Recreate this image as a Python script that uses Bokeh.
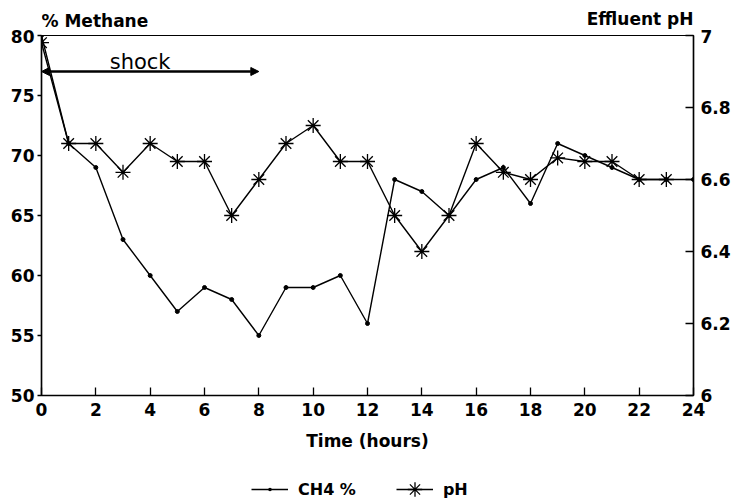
from bokeh.plotting import figure
from bokeh.layouts import column
from bokeh.models import (Range1d, LinearAxis, FixedTicker, Label, Arrow,
                          NormalHead, Legend, LegendItem)
from bokeh.embed import file_html
from bokeh.resources import INLINE

# ---- data ----
hours = list(range(25))
ch4 = [80, 71, 69, 63, 60, 57, 59, 58, 55, 59, 59, 60, 56,
       68, 67, 65, 68, 69, 66, 71, 70, 69, 68, 68, 68]
ph_hours = list(range(24))
ph = [6.98, 6.70, 6.70, 6.62, 6.70, 6.65, 6.65, 6.50, 6.60, 6.70, 6.75, 6.65,
      6.65, 6.50, 6.40, 6.50, 6.70, 6.62, 6.60, 6.66, 6.65, 6.65, 6.60, 6.60]
x_ticks = [0, 2, 4, 6, 8, 10, 12, 14, 16, 18, 20, 22, 24]
ch4_ticks = [50, 55, 60, 65, 70, 75, 80]
ph_ticks = [6, 6.2, 6.4, 6.6, 6.8, 7]
ph_tick_labels = ["6", "6.2", "6.4", "6.6", "6.8", "7"]
shock_start, shock_end, shock_level = 0, 8, 77
shock_text = "shock"
left_title = "% Methane"
right_title = "Effluent pH"
x_title = "Time (hours)"
series_names = ["CH4 %", "pH"]

FONT = "DejaVu Sans"
W = 734
HEAD_H = 29

# ---- header with the two axis titles ----
head = figure(width=W, height=HEAD_H, output_backend="svg", toolbar_location=None,
              x_range=Range1d(0, 24), y_range=Range1d(HEAD_H, 0),
              x_axis_location=None, y_axis_location=None,
              min_border_left=41, min_border_right=41,
              min_border_top=0, min_border_bottom=0)
head.outline_line_color = None
head.grid.visible = False
head.add_layout(Label(x=0, y=20, text=left_title, text_align="left",
                      text_baseline="alphabetic", text_font=FONT,
                      text_font_style="bold", text_font_size="17px",
                      text_color="black"))
head.add_layout(Label(x=24, y=18, text=right_title, text_align="right",
                      text_baseline="alphabetic", text_font=FONT,
                      text_font_style="bold", text_font_size="17px",
                      text_color="black"))

# ---- main chart ----
p = figure(width=W, height=426, output_backend="svg", toolbar_location=None,
           x_range=Range1d(0, 24), y_range=Range1d(50, 80),
           min_border_left=41, min_border_right=41, min_border_top=35 - HEAD_H,
           min_border_bottom=60)
p.extra_y_ranges = {"ph": Range1d(6, 7)}
p.grid.visible = False
p.outline_line_color = "black"
p.outline_line_width = 1.2

p.xaxis.ticker = FixedTicker(ticks=x_ticks)
p.xaxis.major_tick_in = 8
p.xaxis.major_tick_out = 0
p.xaxis.minor_tick_line_color = None
p.xaxis.major_label_standoff = 7
p.xaxis.axis_label = x_title
p.xaxis.axis_label_standoff = 12
p.xaxis.axis_label_text_font = FONT
p.xaxis.axis_label_text_font_style = "bold"
p.xaxis.axis_label_text_font_size = "17px"
p.xaxis.axis_label_text_color = "black"

p.yaxis.ticker = FixedTicker(ticks=ch4_ticks)
p.yaxis.major_tick_in = 0
p.yaxis.major_tick_out = 4
p.yaxis.minor_tick_line_color = None
p.yaxis.major_label_standoff = 3

right = LinearAxis(y_range_name="ph", ticker=FixedTicker(ticks=ph_ticks),
                   major_label_overrides={v: s for v, s in zip(ph_ticks, ph_tick_labels)})
right.major_tick_in = 8
right.major_tick_out = 0
right.minor_tick_line_color = None
right.major_label_standoff = 7
p.add_layout(right, "right")

for ax in [p.xaxis[0], p.yaxis[0], right]:
    ax.axis_line_color = "black"
    ax.axis_line_width = 1.5
    ax.major_tick_line_color = "black"
    ax.major_tick_line_width = 1.3
    ax.major_label_text_font = FONT
    ax.major_label_text_font_style = "bold"
    ax.major_label_text_font_size = "17px"
    ax.major_label_text_color = "black"

p.line(hours, ch4, line_color="black", line_width=1.4)
p.scatter(hours, ch4, marker="circle", size=4, color="black")
p.line(ph_hours, ph, y_range_name="ph", line_color="black", line_width=1.4)
p.scatter(ph_hours, ph, y_range_name="ph", marker="asterisk", size=15,
          line_color="black", line_width=1.3)

p.add_layout(Arrow(start=NormalHead(size=8, fill_color="black", line_color="black"),
                   end=NormalHead(size=8, fill_color="black", line_color="black"),
                   x_start=shock_start, y_start=shock_level,
                   x_end=shock_end, y_end=shock_level,
                   line_width=2.5, line_color="black"))
p.add_layout(Label(x=3.63, y=77.78, text=shock_text, text_align="center",
                   text_baseline="alphabetic", text_font=FONT,
                   text_font_size="21px", text_color="black"))

# ---- footer with the legend ----
foot = figure(width=W, height=43, output_backend="svg", toolbar_location=None,
              x_range=Range1d(0, 1), y_range=Range1d(0, 1),
              x_axis_location=None, y_axis_location=None,
              min_border_left=0, min_border_right=0,
              min_border_top=0, min_border_bottom=0)
foot.outline_line_color = None
foot.grid.visible = False
fl1 = foot.line(hours, ch4, line_color="black", line_width=1.4, visible=False)
fs1 = foot.scatter(hours, ch4, marker="dot", line_color="black",
                   fill_color="black", visible=False)
fl2 = foot.line(ph_hours, ph, line_color="black", line_width=1.4, visible=False)
fs2 = foot.scatter(ph_hours, ph, marker="asterisk", line_color="black",
                   line_width=1.3, visible=False)
legend = Legend(items=[LegendItem(label=series_names[0], renderers=[fl1, fs1]),
                       LegendItem(label=series_names[1], renderers=[fl2, fs2])],
                orientation="horizontal", location=(210, -9),
                glyph_width=37, glyph_height=36, label_height=36,
                label_standoff=10, spacing=40, padding=0, margin=0,
                border_line_alpha=0, background_fill_alpha=0,
                label_text_font=FONT, label_text_font_style="bold",
                label_text_font_size="16px", label_text_color="black")
foot.add_layout(legend, "center")

open("out.html", "w").write(file_html(column(head, p, foot), INLINE))
